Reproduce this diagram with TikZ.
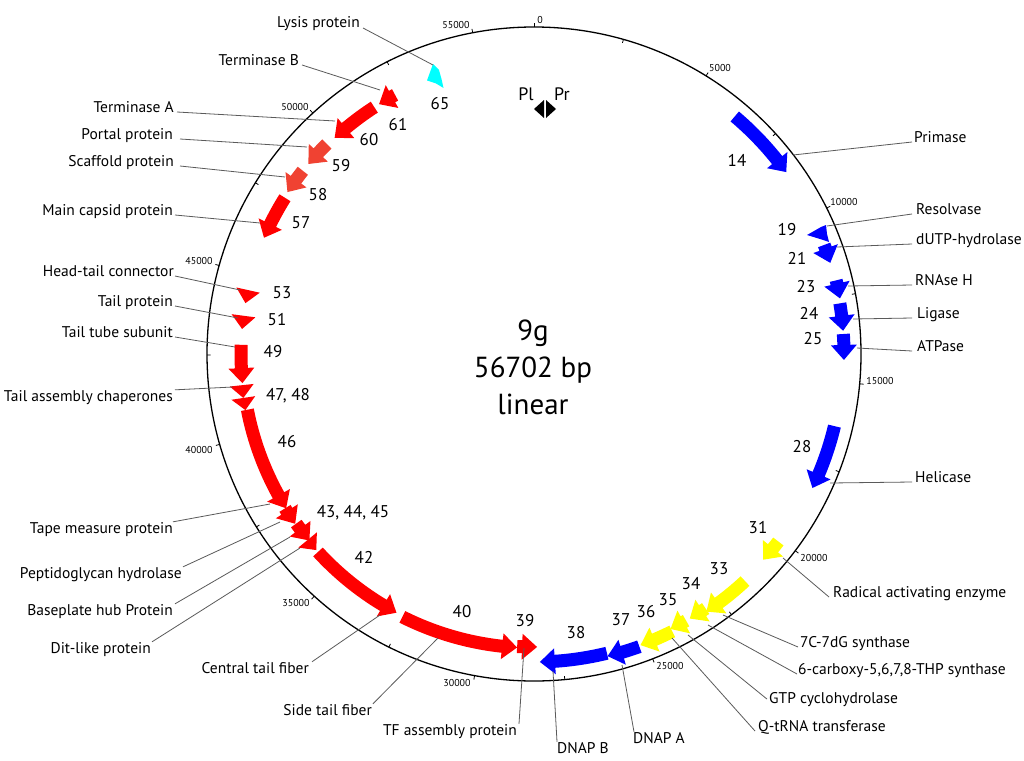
\documentclass[tikz,border=0pt]{standalone}
\usepackage{fontspec}
\setmainfont{PT Sans}
\definecolor{gred}{RGB}{255,0,0}
\definecolor{gredl}{RGB}{240,66,50}
\definecolor{gblue}{RGB}{0,0,255}
\definecolor{gyel}{RGB}{255,255,0}
\definecolor{gcyan}{RGB}{0,255,255}
\definecolor{leadc}{RGB}{90,90,90}
\newcommand\gene[4]{%
 \pgfmathsetmacro\gA{#2-90}%
 \pgfmathsetmacro\gB{#3-90}%
 \pgfmathsetmacro\gD{15/#4*57.29578}%
 \pgfmathsetmacro\gH{(#3>#2) ? (\gB-\gD) : (\gB+\gD)}%
 \pgfmathsetmacro\gRo{#4+6.5}%
 \pgfmathsetmacro\gRi{#4-6.5}%
 \pgfmathsetmacro\gRho{#4+13}%
 \pgfmathsetmacro\gRhi{#4-13}%
 \fill[#1] (\gA:\gRo) arc[start angle=\gA, end angle=\gH, radius=\gRo] -- (\gH:\gRho) -- (\gB:#4) -- (\gH:\gRhi) -- (\gH:\gRi) arc[start angle=\gH, end angle=\gA, radius=\gRi] -- cycle;}
\newcommand\ghead[4]{%
 \pgfmathsetmacro\gA{#2-90}%
 \pgfmathsetmacro\gB{#3-90}%
 \pgfmathsetmacro\gRho{#4+12}%
 \pgfmathsetmacro\gRhi{#4-12}%
 \fill[#1] (\gA:\gRho) -- (\gB:#4) -- (\gA:\gRhi) -- cycle;}
\begin{document}
\begin{tikzpicture}[x=1pt,y=1pt,
  lab/.style={inner sep=0pt, font=\fontsize{15.5}{18}\selectfont},
  num/.style={inner sep=0pt, font=\fontsize{17}{20}\selectfont},
  ticklab/.style={inner sep=0pt, font=\fontsize{10}{12}\selectfont},
  leader/.style={draw=leadc, line width=0.8pt},
  tickmark/.style={draw=black, line width=0.8pt}]
\begin{scope}[yscale=-1]
\useasboundingbox (0,0) rectangle (1024,760);
\fill[white] (0,0) rectangle (1024,760);
% ---- circle, ticks, genes ----
\begin{scope}[shift={(534,354)}]
\draw[line width=1.3pt] (0,0) circle[radius=327];
\foreach \k in {0,...,11} {\pgfmathsetmacro\ang{\k*31.7449-90}
  \draw[tickmark] (\ang:327) -- (\ang:331);}
\foreach \k in {0,...,10} {\pgfmathsetmacro\ang{(\k+0.5)*31.7449-90}
  \draw[tickmark] (\ang:327) -- (\ang:323.5);}
% blue
\gene{gblue}{40.2}{54.2}{311}
\gene{gblue}{69.4}{72.9}{310}
\gene{gblue}{76.3}{79.7}{311}
\gene{gblue}{80.6}{85.7}{310}
\gene{gblue}{86.3}{91.1}{310}
\gene{gblue}{103.5}{115.7}{309}
% yellow
\gene{gyel}{127.5}{131.9}{308}
\gene{gyel}{137.1}{146.2}{310}
\gene{gyel}{146.0}{149.5}{307}
\gene{gyel}{150.3}{153.6}{307}
\gene{gyel}{153.5}{159.9}{310}
% blue bottom
\gene{gblue}{160.2}{166.3}{311}
\gene{gblue}{166.3}{178.9}{308}
% red
\gene{gred}{183.3}{179.4}{293}
\gene{gred}{206.6}{183.3}{294}
\gene{gred}{227.5}{208}{293}
\ghead{gred}{230.6}{228}{293}
\gene{gred}{234.5}{230.3}{292}
\gene{gred}{238.2}{234.6}{293}
\gene{gred}{259}{238.1}{292}
\ghead{gred}{261.4}{259}{294}
\ghead{gred}{263.9}{261.4}{294}
\gene{gred}{271.8}{264.3}{293}
\ghead{gred}{277.5}{274.9}{293}
\ghead{gred}{282.6}{280}{293}
\gene{gred}{302.1}{293.3}{294}
\gene{gredl}{308.4}{303.3}{295}
\gene{gredl}{315.4}{310.1}{295}
\gene{gred}{327.1}{317.3}{294}
\gene{gred}{331.8}{328.2}{294}
\end{scope}
% short genes drawn directly
\fill[gblue] (807,235) -- (821,227) -- (826,225) -- (827,234) -- (829,242) -- (820,239) -- cycle;
\fill[gcyan] (433,64) -- (427,80.5) -- (436,83.5) -- (443.5,88) -- (441.5,79) -- (439,70) -- cycle;
% promoter markers
\fill[black] (534,109) -- (544,100) -- (544,118) -- cycle;
\fill[black] (546,100) -- (556,109) -- (546,118) -- cycle;
\node[num, font=\fontsize{18}{20}\selectfont] (pl) at (526,94) {Pl};
\node[num, font=\fontsize{18}{20}\selectfont] (pr) at (562,94) {Pr};
% tick labels
\node[ticklab] (t0) at (540,20) {0};
\node[ticklab] (t5) at (720,68) {5000};
\node[ticklab] (t10) at (844,202) {10000};
\node[ticklab] (t15) at (880,381) {15000};
\node[ticklab] (t20) at (814,558) {20000};
\node[ticklab] (t25) at (670,666) {25000};
\node[ticklab] (t30) at (457,683) {30000};
\node[ticklab] (t35) at (296,603) {35000};
\node[ticklab] (t40) at (199,450) {40000};
\node[ticklab] (t45) at (199,261) {45000};
\node[ticklab] (t50) at (295,107) {50000};
\node[ticklab] (t55) at (456,25) {55000};
% center title
\node[align=center, inner sep=0pt, font=\fontsize{29}{37}\selectfont] (title) at (533,367) {9g\\56702 bp\\linear};
% gene numbers
\node[num] (n65) at (440,104) {65};
\node[num] (n61) at (398,125) {61};
\node[num] (n60) at (369,140) {60};
\node[num] (n59) at (341,166) {59};
\node[num] (n58) at (318,195) {58};
\node[num] (n57) at (301,223) {57};
\node[num] (n53) at (282,293) {53};
\node[num] (n51) at (277,320) {51};
\node[num] (n49) at (273,352) {49};
\node[num] (n47) at (288,396) {47, 48};
\node[num] (n46) at (287,442) {46};
\node[num] (n43) at (353,513) {43, 44, 45};
\node[num] (n42) at (364,557) {42};
\node[num] (n40) at (462,612) {40};
\node[num] (n39) at (525,621) {39};
\node[num] (n38) at (576,633) {38};
\node[num] (n37) at (621,620) {37};
\node[num] (n36) at (646,612) {36};
\node[num] (n35) at (668,600) {35};
\node[num] (n34) at (691,584) {34};
\node[num] (n33) at (719,569) {33};
\node[num] (n31) at (758,528) {31};
\node[num] (n28) at (802,447) {28};
\node[num] (n25) at (813,339) {25};
\node[num] (n24) at (809,313) {24};
\node[num] (n23) at (806,287) {23};
\node[num] (n21) at (797,258) {21};
\node[num] (n19) at (787,230) {19};
\node[num] (n14) at (737,160) {14};
% labels right
\node[lab, anchor=base west] (lPrim) at (914,142) {Primase};
\node[lab, anchor=base west] (lRes) at (916,214) {Resolvase};
\node[lab, anchor=base west] (lDUTP) at (916,244) {dUTP-hydrolase};
\node[lab, anchor=base west] (lRNA) at (915,285) {RNAse H};
\node[lab, anchor=base west] (lLig) at (917,318) {Ligase};
\node[lab, anchor=base west] (lATP) at (917,351) {ATPase};
\node[lab, anchor=base west] (lHel) at (915,482) {Helicase};
\node[lab, anchor=base west] (lRad) at (833,597) {Radical activating enzyme};
\node[lab, anchor=base west] (l7C) at (800,647) {7C-7dG synthase};
\node[lab, anchor=base west] (l6C) at (798,674) {6-carboxy-5,6,7,8-THP synthase};
\node[lab, anchor=base west] (lGTP) at (769,703) {GTP cyclohydrolase};
\node[lab, anchor=base west] (lQ) at (758,731) {Q-tRNA transferase};
\node[lab, anchor=base west] (lDA) at (633,743) {DNAP A};
\node[lab, anchor=base west] (lDB) at (557,753) {DNAP B};
% labels left
\node[lab, anchor=base east] (lTF) at (517,735) {TF assembly protein};
\node[lab, anchor=base east] (lSide) at (372,715) {Side tail fiber};
\node[lab, anchor=base east] (lCen) at (309,673) {Central tail fiber};
\node[lab, anchor=base east] (lDit) at (151,653) {Dit-like protein};
\node[lab, anchor=base east] (lBase) at (173,615) {Baseplate hub Protein};
\node[lab, anchor=base east] (lPep) at (182,578) {Peptidoglycan hydrolase};
\node[lab, anchor=base east] (lTape) at (173,533) {Tape measure protein};
\node[lab, anchor=base east] (lTAC) at (173,401) {Tail assembly chaperones};
\node[lab, anchor=base east] (lTT) at (173,337) {Tail tube subunit};
\node[lab, anchor=base east] (lTP) at (173,306) {Tail protein};
\node[lab, anchor=base east] (lHT) at (174,276) {Head-tail connector};
\node[lab, anchor=base east] (lMC) at (173,215) {Main capsid protein};
\node[lab, anchor=base east] (lSc) at (174,166) {Scaffold protein};
\node[lab, anchor=base east] (lPo) at (173,139) {Portal protein};
\node[lab, anchor=base east] (lTA) at (174,112) {Terminase A};
\node[lab, anchor=base east] (lTB) at (299,65) {Terminase B};
\node[lab, anchor=base east] (lLy) at (360,28) {Lysis protein};
% leader end points
\coordinate (e14) at (793,155);
\coordinate (e19) at (827,226);
\coordinate (e21) at (837,247);
\coordinate (e23) at (848,286);
\coordinate (e24) at (853,319);
\coordinate (e25) at (857,348);
\coordinate (e28) at (830,483);
\coordinate (e31) at (783,558);
\coordinate (e33) at (723,615);
\coordinate (e34) at (708,625);
\coordinate (e35) at (688,635);
\coordinate (e36) at (672,638);
\coordinate (e37) at (622,665);
\coordinate (e38) at (553,671);
\coordinate (e39) at (524,648);
\coordinate (e40) at (438,638);
\coordinate (e42) at (380,615);
\coordinate (e45) at (300,548);
\coordinate (e44) at (290,537);
\coordinate (e43) at (280,522);
\coordinate (e46) at (270,504);
\coordinate (e47) at (233,387);
\coordinate (e49) at (235,347);
\coordinate (e51) at (238,318);
\coordinate (e53) at (240,290);
\coordinate (e57) at (260,223);
\coordinate (e58) at (285,177);
\coordinate (e59) at (307,147);
\coordinate (e60) at (335,121);
\coordinate (e61) at (380,90);
\coordinate (e65) at (433,65);
% leaders
\draw[leader] ([xshift=-2pt]lPrim.base west) -- (e14);
\draw[leader] ([xshift=-4pt]lRes.base west) -- (e19);
\draw[leader] ([xshift=-4pt]lDUTP.base west) -- (e21);
\draw[leader] ([xshift=-3pt]lRNA.base west) -- (e23);
\draw[leader] ([xshift=-5pt]lLig.base west) -- (e24);
\draw[leader] ([xshift=-5pt]lATP.base west) -- (e25);
\draw[leader] ([xshift=-3pt]lHel.base west) -- (e28);
\draw[leader] ([xshift=-4pt]lRad.base west) -- (e31);
\draw[leader] ([xshift=-2pt]l7C.base west) -- (e33);
\draw[leader] ([xshift=-1pt]l6C.base west) -- (e34);
\draw[leader] ([xshift=-2pt]lGTP.west) -- (e35);
\draw[leader] ([xshift=-3pt]lQ.base west) -- (e36);
\draw[leader] ([xshift=1pt]lDA.north west) -- (e37);
\draw[leader] (lDB.north west) -- (e38);
\draw[leader] ([xshift=2pt]lTF.north east) -- (e39);
\draw[leader] ([xshift=1pt]lSide.north east) -- (e40);
\draw[leader] ([xshift=3pt]lCen.north east) -- (e42);
\draw[leader] ([xshift=1pt]lDit.north east) -- (e45);
\draw[leader] ([xshift=2pt]lBase.north east) -- (e44);
\draw[leader] ([xshift=1pt]lPep.north east) -- (e43);
\draw[leader] (lTape.north east) -- (e46);
\draw[leader] ([xshift=2pt]lTAC.north east) -- (e47);
\draw[leader] ([xshift=2pt]lTT.base east) -- (e49);
\draw[leader] ([xshift=2pt]lTP.base east) -- (e51);
\draw[leader] ([xshift=1pt]lHT.base east) -- (e53);
\draw[leader] ([xshift=2pt]lMC.base east) -- (e57);
\draw[leader] ([xshift=6pt]lSc.base east) -- (e58);
\draw[leader] ([xshift=7pt]lPo.base east) -- (e59);
\draw[leader] ([xshift=3pt]lTA.base east) -- (e60);
\draw[leader] ([xshift=3pt]lTB.base east) -- (e61);
\draw[leader] ([xshift=3pt]lLy.base east) -- (e65);
\end{scope}
\end{tikzpicture}
\end{document}
